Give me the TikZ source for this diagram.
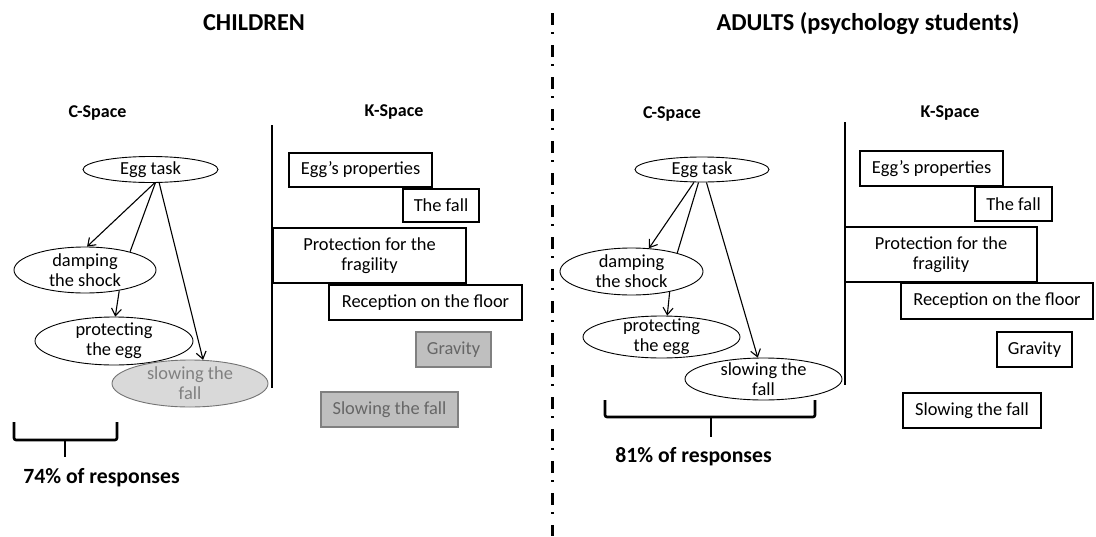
\documentclass[tikz,border=0pt]{standalone}
\usepackage{fontspec}
\setmainfont{Carlito}
\usetikzlibrary{shapes.geometric,arrows.meta}

\tikzset{
    cnode/.style={ellipse, draw, line width=0.9pt, inner sep=-30pt, align=center,
        font=\fontsize{18.4}{20}\selectfont},
    cgray/.style={cnode, fill=black!15, draw=black!55, text=black!50},
    knode/.style={draw, line width=1.2pt, inner sep=0pt, align=center,
        font=\fontsize{18.4}{20}\selectfont},
    kgray/.style={knode, fill=black!25, draw=black!50, text=black!60},
    title/.style={anchor=base, font=\fontsize{24.3}{28}\selectfont\bfseries},
    spacelabel/.style={anchor=base, font=\fontsize{18}{22}\selectfont\bfseries},
    share/.style={anchor=base, font=\fontsize{21.7}{26}\selectfont\bfseries},
    link/.style={line width=1.1pt, -{Straight Barb[length=7pt,width=10pt]}},
    plain/.style={line width=1.1pt},
    brace/.style={line width=2.6pt, rounded corners=2pt}
}

\begin{document}
\begin{tikzpicture}[x=1pt,y=-1pt]

        \useasboundingbox (0,0) rectangle (1096,536);

        % Titles
        \node[title] (children) at (254,30) {CHILDREN};
        \node[title] (adults) at (868,30) {ADULTS (psychology students)};
        \node[spacelabel] (cspaceL) at (97.5,117) {C-Space};
        \node[spacelabel] (kspaceL) at (394,116) {K-Space};
        \node[spacelabel] (cspaceR) at (672,118) {C-Space};
        \node[spacelabel] (kspaceR) at (950,117) {K-Space};

        % Divider
        \draw[line width=3pt, dash pattern=on 12pt off 7pt on 2pt off 11pt] (552.5,13) -- (552.5,536);

        % Separators
        \draw[line width=1.5pt] (272,125) -- (272,388);
        \draw[line width=1.5pt] (845,122) -- (845,385);

        % Children C-Space
        \node[cnode, minimum width=135pt, minimum height=26pt] (eggL) at (150.5,169.5) {Egg task};
        \node[cnode, minimum width=142pt, minimum height=46pt] (dampL) at (85,270) {damping\\the shock};
        \node[cnode, minimum width=158pt, minimum height=48pt] (protL) at (114,341) {protecting\\the egg};
        \node[cgray, minimum width=156pt, minimum height=47pt] (slowL) at (190,383.5) {slowing the\\fall};

        \draw[link] (eggL.-73) -- (dampL.85);
        \draw[plain] (eggL.-70) -- (dampL.22);
        \draw[link] (eggL.-57) -- (slowL.61);
        \draw[link] (dampL.-31) -- (protL.87);

        % Children K-Space
        \node[knode, minimum width=143pt, minimum height=34pt] (propL) at (360.5,170) {Egg’s properties};
        \node[knode, minimum width=76pt, minimum height=33pt] (fallL) at (441,205.5) {The fall};
        \node[knode, minimum width=193pt, minimum height=55pt] (fragL) at (369.5,255.5) {Protection for the\\fragility};
        \node[knode, minimum width=193pt, minimum height=35pt] (floorL) at (425.5,302.5) {Reception on the floor};
        \node[kgray, minimum width=75pt, minimum height=35pt] (gravL) at (453.5,349.5) {Gravity};
        \node[kgray, minimum width=137pt, minimum height=35pt] (slowingL) at (389.5,409.5) {Slowing the fall};

        % Children share
        \draw[brace] (14,422) -- (14,440) -- (117,440) -- (117,422);
        \draw[brace] (65,440) -- (65,457);
        \node[share] (shareL) at (101.5,483) {74\% of responses};

        % Adults C-Space
        \node[cnode, minimum width=134pt, minimum height=25pt] (eggR) at (702,169.5) {Egg task};
        \node[cnode, minimum width=143pt, minimum height=47pt] (dampR) at (631.5,271.5) {damping\\the shock};
        \node[cnode, minimum width=157pt, minimum height=42pt] (protR) at (661.5,337) {protecting\\the egg};
        \node[cnode, minimum width=157pt, minimum height=42pt] (slowR) at (763.5,379) {slowing the\\fall};

        \draw[link] (eggR.-122) -- (dampR.53);
        \draw[plain] (eggR.-105) -- (dampR.22);
        \draw[link] (eggR.-71) -- (slowR.105);
        \draw[link] (dampR.-28) -- (protR.75);

        % Adults K-Space
        \node[knode, minimum width=143pt, minimum height=35pt] (propR) at (931.5,168.5) {Egg’s properties};
        \node[knode, minimum width=77pt, minimum height=34pt] (fallR) at (1013.5,204) {The fall};
        \node[knode, minimum width=192pt, minimum height=55pt] (fragR) at (941,254.5) {Protection for the\\fragility};
        \node[knode, minimum width=192pt, minimum height=36pt] (floorR) at (997,301) {Reception on the floor};
        \node[knode, minimum width=75pt, minimum height=35pt] (gravR) at (1034.5,349.5) {Gravity};
        \node[knode, minimum width=138pt, minimum height=35pt] (slowingR) at (972,410.5) {Slowing the fall};

        % Adults share
        \draw[brace] (605,400) -- (605,417) -- (815,417) -- (815,400);
        \draw[brace] (711,417) -- (711,437);
        \node[share] (shareR) at (693.5,462) {81\% of responses};

\end{tikzpicture}
\end{document}
